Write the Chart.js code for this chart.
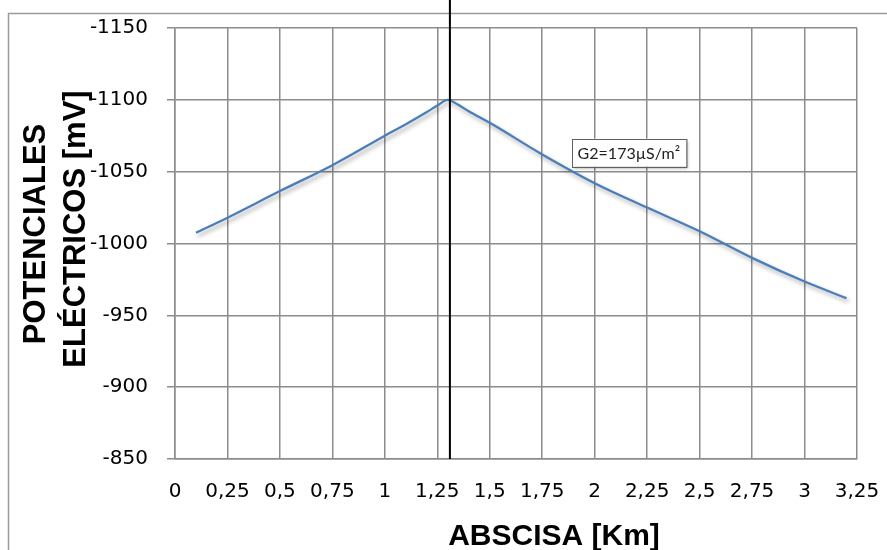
<!DOCTYPE html>
<html><head><meta charset="utf-8">
<script src="https://cdn.jsdelivr.net/npm/chart.js@4"></script>
<style>html,body{margin:0;padding:0;background:#fff}#wrap{width:887px;height:550px;position:relative}</style>
</head><body><div id="wrap"><canvas id="c"></canvas></div>
<script>
// ---- data ----
const abscisaKm   = [0.1, 0.25, 0.5, 0.75, 1.0, 1.1, 1.2, 1.25, 1.3, 1.35, 1.4, 1.5, 1.75, 2.0, 2.25, 2.5, 2.75, 3.0, 3.2];
const potencialMv = [-1007.5, -1018, -1036.5, -1054.5, -1075, -1083, -1091.5, -1096, -1100, -1096.5, -1092, -1084, -1062, -1042, -1025, -1008.5, -990, -973.5, -962];
const xTickValues = [0, 0.25, 0.5, 0.75, 1, 1.25, 1.5, 1.75, 2, 2.25, 2.5, 2.75, 3, 3.25];
const xTickLabels = ['0','0,25','0,5','0,75','1','1,25','1,5','1,75','2','2,25','2,5','2,75','3','3,25'];
const yTickValues = [-1150, -1100, -1050, -1000, -950, -900, -850];
const yTickLabels = ['-1150','-1100','-1050','-1000','-950','-900','-850'];
const markerKm = [1.31, 1.31];
const markerMv = [-850, -1170];
const seriesLabel = 'G2=173µS/m²';
const labelAnchorKm = 1.89;
const labelAnchorMv = -1073;
const xTitle = 'ABSCISA [Km]';
const yTitleLines = ['POTENCIALES', 'ELÉCTRICOS [mV]'];

const GRID = '#8c8c8c';
const TICK_FONT = {family: "'DejaVu Sans', sans-serif", size: 20};

const framePlugin = {
  id: 'frame',
  beforeDraw(chart) {
    const ctx = chart.ctx;
    ctx.save();
    ctx.fillStyle = '#fff';
    ctx.fillRect(0, 0, chart.width, chart.height);
    ctx.strokeStyle = '#9a9a9a';
    ctx.lineWidth = 1.5;
    ctx.strokeRect(8.5, 13.5, chart.width + 20, chart.height + 20);
    ctx.restore();
  }
};

const shadowPlugin = {
  id: 'lineShadow',
  beforeDatasetDraw(chart, args) {
    if (args.index !== 1) return;
    const ctx = chart.ctx;
    ctx.save();
    ctx.shadowColor = 'rgba(0,0,0,0.35)';
    ctx.shadowBlur = 4;
    ctx.shadowOffsetX = 2;
    ctx.shadowOffsetY = 3;
  },
  afterDatasetDraw(chart, args) {
    if (args.index !== 1) return;
    chart.ctx.restore();
  }
};

const textPlugin = {
  id: 'texts',
  afterDatasetsDraw(chart) {
    const ctx = chart.ctx;
    const xs = chart.scales.x, ys = chart.scales.y;
    // series label box
    ctx.save();
    ctx.font = "16px Lato, 'Open Sans', sans-serif";
    const tw = ctx.measureText(seriesLabel).width;
    const bx = xs.getPixelForValue(labelAnchorKm);
    const by = ys.getPixelForValue(labelAnchorMv);
    const bw = tw + 12, bh = 28;
    ctx.shadowColor = 'rgba(0,0,0,0.35)';
    ctx.shadowBlur = 3;
    ctx.shadowOffsetX = 2;
    ctx.shadowOffsetY = 2;
    ctx.fillStyle = '#fff';
    ctx.fillRect(bx, by, bw, bh);
    ctx.shadowColor = 'transparent';
    ctx.strokeStyle = '#606060';
    ctx.lineWidth = 1;
    ctx.strokeRect(Math.round(bx) + 0.5, Math.round(by) + 0.5, bw, bh);
    ctx.fillStyle = '#222';
    ctx.textBaseline = 'middle';
    ctx.textAlign = 'left';
    ctx.fillText(seriesLabel, bx + 6, by + bh / 2 + 1);
    ctx.restore();

    // axis titles
    ctx.save();
    ctx.fillStyle = '#000';
    ctx.font = "bold 30px 'Liberation Sans', Arial, sans-serif";
    ctx.textAlign = 'center';
    ctx.textBaseline = 'alphabetic';
    ctx.fillText(xTitle, 554, 545);
    const ybase = [45, 85];
    const ycent = [234, 229];
    ctx.font = "bold 31px 'Liberation Sans', Arial, sans-serif";
    for (let i = 0; i < yTitleLines.length; i++) {
      ctx.save();
      ctx.translate(ybase[i], ycent[i]);
      ctx.rotate(-Math.PI / 2);
      ctx.fillText(yTitleLines[i], 0, 0);
      ctx.restore();
    }
    ctx.restore();
  }
};

new Chart(document.getElementById('c'), {
  type: 'line',
  data: {
    datasets: [
      {
        label: 'marker',
        data: markerKm.map((x, i) => ({x, y: markerMv[i]})),
        borderColor: '#000',
        borderWidth: 2,
        pointRadius: 0,
        clip: false,
        tension: 0
      },
      {
        label: seriesLabel,
        data: abscisaKm.map((x, i) => ({x, y: potencialMv[i]})),
        borderColor: '#4a7ebb',
        borderWidth: 2.25,
        pointRadius: 0,
        cubicInterpolationMode: 'monotone',
        fill: false
      }
    ]
  },
  options: {
    responsive: true,
    maintainAspectRatio: false,
    animation: false,
    layout: {padding: {top: 28, right: 30, left: 0, bottom: 0}},
    plugins: {legend: {display: false}, tooltip: {enabled: false}},
    scales: {
      x: {
        type: 'linear',
        min: 0, max: 3.25,
        afterFit(s) { s.height = 91; s.paddingLeft = 0; s.paddingRight = 0; },
        afterBuildTicks(s) { s.ticks = xTickValues.map(v => ({value: v})); },
        ticks: {
          color: '#000',
          font: TICK_FONT,
          padding: 21,
          maxRotation: 0,
          autoSkip: false,
          callback: (v) => { const i = xTickValues.findIndex(t => Math.abs(t - v) < 1e-9); return i >= 0 ? xTickLabels[i] : ''; }
        },
        grid: {color: GRID, lineWidth: 1.5, drawTicks: false},
        border: {color: GRID, width: 1.5}
      },
      y: {
        type: 'linear',
        reverse: true,
        min: -1150, max: -850,
        afterFit(s) { s.width = 175; s.paddingTop = 0; s.paddingBottom = 0; },
        afterBuildTicks(s) { s.ticks = yTickValues.map(v => ({value: v})); },
        ticks: {
          color: '#000',
          font: TICK_FONT,
          padding: 19,
          autoSkip: false,
          callback: (v) => { const i = yTickValues.indexOf(v); return i >= 0 ? yTickLabels[i] : ''; }
        },
        grid: {color: GRID, lineWidth: 1.5, tickLength: 8},
        border: {color: GRID, width: 1.5}
      }
    }
  },
  plugins: [framePlugin, shadowPlugin, textPlugin]
});
</script>
</body></html>
